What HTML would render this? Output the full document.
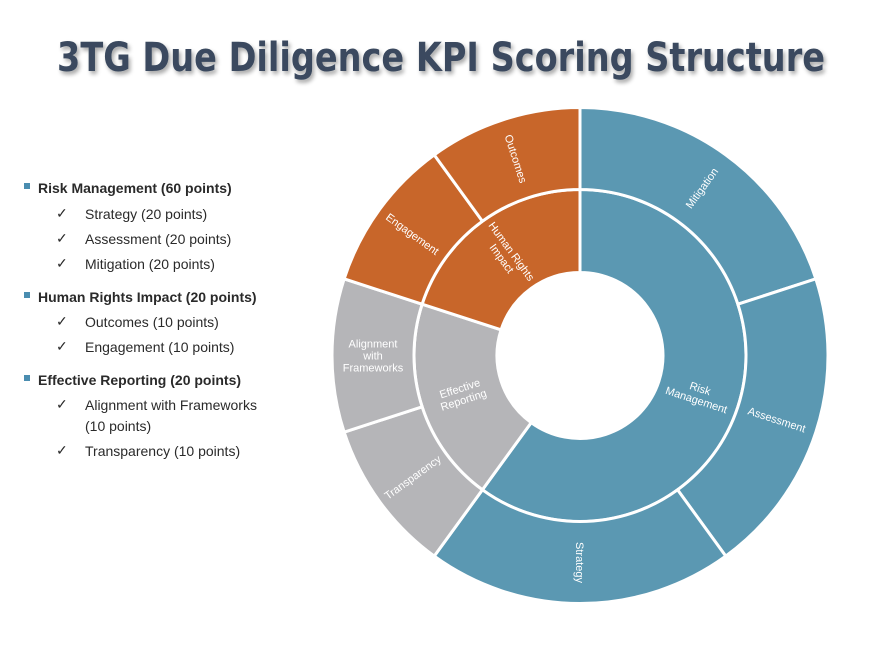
<!DOCTYPE html>
<html><head><meta charset="utf-8"><style>
html,body{margin:0;padding:0;background:#fff;width:870px;height:648px;overflow:hidden}
.lg{position:absolute;font-family:"Liberation Sans",sans-serif;font-size:14px;color:#2a2a2a;white-space:nowrap}
.b{font-weight:bold}
.sq{position:absolute;width:6px;height:6px;background:#4a8db0}
</style></head><body>
<svg width="870" height="648" style="position:absolute;left:0;top:0">
<defs><filter id="sh" x="-5%" y="-20%" width="110%" height="150%"><feGaussianBlur in="SourceAlpha" stdDeviation="2"/><feOffset dx="2" dy="3"/><feComponentTransfer><feFuncA type="linear" slope="0.35"/></feComponentTransfer><feMerge><feMergeNode/><feMergeNode in="SourceGraphic"/></feMerge></filter></defs>
<text x="441" y="71" text-anchor="middle" textLength="768" lengthAdjust="spacingAndGlyphs" font-family="DejaVu Sans Condensed, DejaVu Sans, sans-serif" font-weight="bold" font-size="40" fill="#3a4a5e" filter="url(#sh)">3TG Due Diligence KPI Scoring Structure</text>
<g id="sun"></g>
</svg>
<div>
<div class="sq" style="left:24px;top:183px"></div><div class="lg b" style="left:38px;top:180px">Risk Management (60 points)</div>
<div class="lg" style="left:56px;top:205px">✓</div><div class="lg" style="left:85px;top:206px">Strategy (20 points)</div>
<div class="lg" style="left:56px;top:230px">✓</div><div class="lg" style="left:85px;top:231px">Assessment (20 points)</div>
<div class="lg" style="left:56px;top:255px">✓</div><div class="lg" style="left:85px;top:256px">Mitigation (20 points)</div>
<div class="sq" style="left:24px;top:292px"></div><div class="lg b" style="left:38px;top:289px">Human Rights Impact (20 points)</div>
<div class="lg" style="left:56px;top:313px">✓</div><div class="lg" style="left:85px;top:314px">Outcomes (10 points)</div>
<div class="lg" style="left:56px;top:338px">✓</div><div class="lg" style="left:85px;top:339px">Engagement (10 points)</div>
<div class="sq" style="left:24px;top:375px"></div><div class="lg b" style="left:38px;top:372px">Effective Reporting (20 points)</div>
<div class="lg" style="left:56px;top:396px">✓</div><div class="lg" style="left:85px;top:397px">Alignment with Frameworks</div>
<div class="lg" style="left:85px;top:418px">(10 points)</div>
<div class="lg" style="left:56px;top:442px">✓</div><div class="lg" style="left:85px;top:443px">Transparency (10 points)</div>
</div>
<script>
const innerLabels=[["Risk","Management"],["Effective","Reporting"],["Human Rights","Impact"]];
const innerValues=[60,20,20];
const innerColors=["#5b98b2","#b5b5b8","#c8662a"];
const outerLabels=[["Mitigation"],["Assessment"],["Strategy"],["Transparency"],["Alignment","with","Frameworks"],["Engagement"],["Outcomes"]];
const outerValues=[20,20,20,10,10,10,10];
const outerParent=[0,0,0,1,1,2,2];
const cx=580,cy=355.5,r0=83,r1=166,r2=248;
const g=document.getElementById('sun');
const NS="http://www.w3.org/2000/svg";
function pt(a,r){const t=a*Math.PI/180;return [cx+r*Math.sin(t),cy-r*Math.cos(t)];}
function arc(a0,a1,ri,ro,fill,name){
  const p=document.createElementNS(NS,'path');
  const l=(a1-a0)>180?1:0;
  const [x0,y0]=pt(a0,ro),[x1,y1]=pt(a1,ro),[x2,y2]=pt(a1,ri),[x3,y3]=pt(a0,ri);
  p.setAttribute('d',`M${x0},${y0}A${ro},${ro} 0 ${l} 1 ${x1},${y1}L${x2},${y2}A${ri},${ri} 0 ${l} 0 ${x3},${y3}Z`);
  p.setAttribute('fill',fill);p.setAttribute('stroke','#fff');p.setAttribute('stroke-width','3');
  
  
  g.appendChild(p);
}
function label(a,r,lines,name){
  const [x,y]=pt(a,r);
  let rot=a<180?a-90:(a>180?a-270:90);
  const t=document.createElementNS(NS,'text');
  t.setAttribute('transform',`translate(${x},${y}) rotate(${rot})`);
  t.setAttribute('text-anchor','middle');t.setAttribute('fill','#fff');
  t.setAttribute('font-family','Liberation Sans, sans-serif');t.setAttribute('font-size','11');
  
  
  lines.forEach((s,i)=>{const sp=document.createElementNS(NS,'tspan');sp.setAttribute('x',0);sp.setAttribute('y',(i-(lines.length-1)/2)*12+4);sp.textContent=s;t.appendChild(sp);});
  g.appendChild(t);
}
const tot=innerValues.reduce((a,b)=>a+b,0);
let a=0;
innerValues.forEach((v,i)=>{const s=v/tot*360;arc(a,a+s,r0,r1,innerColors[i],'inner-segment-'+i);a+=s;});
a=0;
const otot=outerValues.reduce((x,y)=>x+y,0);
outerValues.forEach((v,i)=>{const s=v/otot*360;arc(a,a+s,r1,r2,innerColors[outerParent[i]],'outer-segment-'+i);a+=s;});
a=0;
innerValues.forEach((v,i)=>{const s=v/tot*360;label(a+s/2,(r0+r1)/2,innerLabels[i],'inner-label-'+i);a+=s;});
a=0;
outerValues.forEach((v,i)=>{const s=v/otot*360;label(a+s/2,(r1+r2)/2,outerLabels[i],'outer-label-'+i);a+=s;});
</script>
</body></html>
